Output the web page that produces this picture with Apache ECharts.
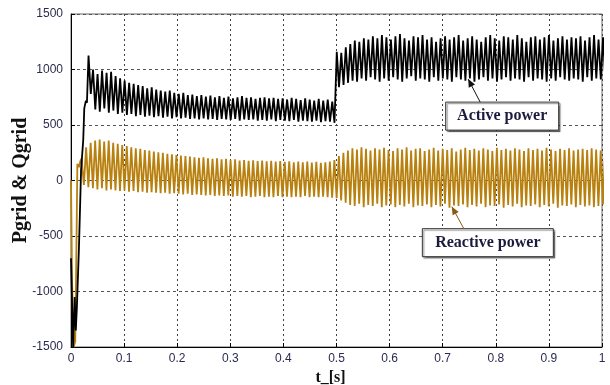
<!DOCTYPE html>
<html>
<head>
<meta charset="utf-8">
<script src="https://cdn.jsdelivr.net/npm/echarts@6/dist/echarts.min.js"></script>
<style>
  html, body { margin: 0; padding: 0; background: #ffffff; }
  #chart { width: 610px; height: 385px; }
</style>
</head>
<body>
<div id="chart"></div>
<script>
// Start-up transient of the grid active power Pgrid: [t, value]
const pStartTimes  = [0.000, 0.004, 0.007, 0.009, 0.011, 0.015, 0.019, 0.023, 0.025, 0.028, 0.030];
const pStartValues = [-700, -1500, -1050, -1350, -1150, -600, 100, 360, 650, 720, 700];

// Ripple of Pgrid after start-up: one crest and one trough per ripple period
const pRippleStart = 0.033;
const pCrests = [
  1126, 1000, 960, 990, 970, 980, 940, 920, 900, 880,
  870, 860, 850, 830, 840, 820, 810, 800, 810, 790,
  780, 790, 770, 775, 760, 770, 755, 765, 750, 760,
  745, 755, 740, 750, 760, 745, 750, 735, 745, 750,
  740, 745, 735, 740, 730, 745, 735, 725, 740, 730,
  720, 735, 720, 730, 710,
  1160, 1150, 1200, 1230, 1260, 1250, 1280, 1270, 1300, 1280,
  1310, 1290, 1270, 1300, 1320, 1280, 1260, 1300, 1290, 1310,
  1270, 1290, 1250, 1280, 1300, 1270, 1290, 1310, 1260, 1280,
  1300, 1270, 1250, 1290, 1310, 1280, 1260, 1300, 1290, 1270,
  1310, 1280, 1250, 1290, 1300, 1270, 1290, 1310, 1260, 1280,
  1300, 1270, 1290, 1280, 1300, 1260, 1290, 1310, 1270, 1290
];
const pTroughs = [
  780, 640, 620, 650, 610, 630, 600, 610, 590, 600,
  580, 590, 575, 585, 570, 580, 565, 575, 560, 570,
  560, 565, 555, 560, 550, 560, 550, 555, 545, 555,
  550, 545, 555, 540, 550, 545, 550, 540, 545, 540,
  550, 535, 545, 540, 535, 545, 530, 540, 535, 530,
  540, 525, 535, 530, 520,
  840, 860, 880, 900, 890, 920, 900, 930, 910, 890,
  920, 900, 930, 910, 890, 920, 940, 900, 920, 910,
  890, 930, 900, 920, 910, 890, 930, 910, 900, 920,
  890, 910, 930, 900, 920, 890, 910, 930, 900, 920,
  910, 890, 930, 900, 920, 910, 890, 920, 900, 930,
  910, 900, 920, 910, 890, 930, 900, 920, 910, 900
];

// Start-up transient of the grid reactive power Qgrid: [t, value]
const qStartTimes  = [0.000, 0.002, 0.005, 0.008, 0.010, 0.012, 0.015, 0.018];
const qStartValues = [0, -900, -1500, -1450, -700, 150, 120, 180];

// Ripple of Qgrid after start-up
const qRippleStart = 0.020;
const qCrests = [
  200, 300, 340, 360, 370, 350, 360, 340, 330, 320,
  310, 300, 290, 285, 275, 270, 260, 255, 250, 240,
  235, 230, 225, 220, 215, 210, 205, 210, 200, 195,
  200, 190, 195, 185, 190, 180, 185, 178, 182, 175,
  180, 172, 178, 170, 175, 168, 172, 165, 170, 165,
  170, 162, 168, 160, 165, 170, 185,
  220, 250, 270, 290, 280, 300, 285, 270, 290, 280,
  295, 275, 265, 290, 280, 300, 270, 285, 290, 265,
  280, 295, 270, 285, 275, 290, 260, 280, 295, 275,
  285, 270, 290, 280, 265, 295, 275, 285, 270, 290,
  280, 265, 290, 275, 285, 270, 295, 280, 265, 285,
  275, 290, 270, 280, 285, 275, 290, 280, 270, 290
];
const qTroughs = [
  -40, -60, -70, -80, -70, -90, -80, -90, -95, -90,
  -100, -95, -105, -100, -110, -105, -110, -115, -110, -120,
  -115, -120, -125, -120, -130, -125, -130, -135, -130, -140,
  -135, -140, -135, -145, -140, -145, -140, -150, -145, -140,
  -150, -145, -150, -140, -150, -145, -150, -145, -150, -140,
  -150, -145, -150, -145, -150, -155, -160,
  -180, -200, -220, -230, -210, -240, -220, -230, -210, -240,
  -225, -215, -240, -220, -235, -210, -240, -225, -230, -215,
  -240, -220, -235, -210, -245, -225, -230, -215, -240, -220,
  -235, -210, -240, -225, -230, -215, -245, -220, -235, -210,
  -240, -225, -230, -215, -240, -220, -235, -210, -245, -225,
  -230, -215, -240, -220, -235, -225, -240, -230, -215, -235
];

const ripplePeriod = 0.0085;

// Axis ranges and steps
const xRange = [0, 1];
const xStep = 0.1;
const yRange = [-1500, 1500];
const yStep = 500;

// Text
const yTitle = 'Pgrid & Qgrid';
const xTitle = 't_[s]';
const activeLabel = 'Active power';
const reactiveLabel = 'Reactive power';

function buildSeries(startTimes, startValues, t0, crests, troughs) {
  const pts = startTimes.map((t, i) => [t, startValues[i]]);
  const n = Math.min(crests.length, troughs.length);
  for (let i = 0; i < n; i++) {
    const t = t0 + i * ripplePeriod;
    pts.push([t, crests[i]]);
    pts.push([t + ripplePeriod / 2, troughs[i]]);
  }
  return pts;
}

const pData = buildSeries(pStartTimes, pStartValues, pRippleStart, pCrests, pTroughs);
const qData = buildSeries(qStartTimes, qStartValues, qRippleStart, qCrests, qTroughs);

const labelColor = '#2b2b4f';
const chart = echarts.init(document.getElementById('chart'), null, { renderer: 'canvas' });

chart.setOption({
  animation: false,
  backgroundColor: '#ffffff',
  grid: {
    left: 71, right: 8, top: 14, bottom: 38,
    containLabel: false, outerBoundsMode: 'none',
    show: true, borderColor: '#666666', borderWidth: 1
  },
  xAxis: {
    type: 'value',
    min: xRange[0], max: xRange[1], interval: xStep,
    name: xTitle,
    nameLocation: 'middle',
    nameGap: 22,
    nameTextStyle: {
      fontFamily: 'Liberation Serif', fontWeight: 'bold', fontSize: 16,
      color: '#111111', verticalAlign: 'top', padding: [0, 12, 0, 0]
    },
    axisLine: { show: true, onZero: false, lineStyle: { color: '#000000', width: 1 } },
    axisTick: { show: true, inside: true, length: 4, lineStyle: { color: '#000000' } },
    axisLabel: {
      fontFamily: 'Liberation Sans', fontSize: 12, color: labelColor, margin: 6,
      formatter: v => String(Math.round(v * 10) / 10)
    },
    splitLine: { show: true, lineStyle: { color: '#444444', type: [2, 3], width: 1 } }
  },
  yAxis: {
    type: 'value',
    min: yRange[0], max: yRange[1], interval: yStep,
    name: yTitle,
    nameLocation: 'middle',
    nameRotate: 90,
    nameGap: 40,
    nameMoveOverlap: false,
    nameTextStyle: {
      fontFamily: 'Liberation Serif', fontWeight: 'bold', fontSize: 20, color: '#111111'
    },
    axisLine: { show: true, lineStyle: { color: '#000000', width: 1 } },
    axisTick: { show: true, inside: true, length: 4, lineStyle: { color: '#000000' } },
    axisLabel: {
      fontFamily: 'Liberation Sans', fontSize: 12, color: labelColor, margin: 8,
      formatter: v => String(v)
    },
    splitLine: { show: true, lineStyle: { color: '#555555', type: [3, 3], width: 1 } }
  },
  series: [
    {
      name: 'Qgrid', type: 'line', data: qData, showSymbol: false, symbol: 'none',
      clip: true, lineStyle: { color: '#b8800e', width: 1.8 }, z: 2
    },
    {
      name: 'Pgrid', type: 'line', data: pData, showSymbol: false, symbol: 'none',
      clip: true, lineStyle: { color: '#000000', width: 1.8 }, z: 3
    }
  ]
});

// Callout boxes with arrows pointing at the two curves
function arrowHead(tip, from, color) {
  const dx = tip[0] - from[0], dy = tip[1] - from[1];
  const len = Math.hypot(dx, dy);
  const ux = dx / len, uy = dy / len;
  const size = 8, half = 3.5;
  const bx = tip[0] - ux * size, by = tip[1] - uy * size;
  return {
    type: 'polygon',
    shape: { points: [tip, [bx - uy * half, by + ux * half], [bx + uy * half, by - ux * half]] },
    style: { fill: color },
    z: 20
  };
}

function callout(center, w, h, text, arrowFrom, arrowTip, arrowColor) {
  return [
    {
      type: 'rect',
      shape: { x: center[0] - w / 2, y: center[1] - h / 2, width: w, height: h },
      style: {
        fill: '#ffffff', stroke: '#333333', lineWidth: 1,
        shadowColor: 'rgba(0,0,0,0.45)', shadowOffsetX: 1.5, shadowOffsetY: 1.5, shadowBlur: 1
      },
      z: 15
    },
    {
      type: 'text',
      x: center[0], y: center[1],
      style: {
        text: text, fill: '#1b1b3d', font: 'bold 16px "Liberation Serif"',
        align: 'center', verticalAlign: 'middle'
      },
      z: 16
    },
    {
      type: 'line',
      shape: { x1: arrowFrom[0], y1: arrowFrom[1], x2: arrowTip[0], y2: arrowTip[1] },
      style: { stroke: arrowColor, lineWidth: 1 },
      z: 20
    },
    arrowHead(arrowTip, arrowFrom, arrowColor)
  ];
}

const aC = chart.convertToPixel({ gridIndex: 0 }, [0.812, 580]);
const rC = chart.convertToPixel({ gridIndex: 0 }, [0.785, -560]);
chart.setOption({
  graphic: [
    ...callout(aC, 113, 28, activeLabel, [aC[0] - 22, aC[1] - 14], [aC[0] - 34, aC[1] - 37], '#111111'),
    ...callout(rC, 131, 28, reactiveLabel, [rC[0] - 24, rC[1] - 14], [rC[0] - 36, rC[1] - 36], '#8a5a10')
  ]
});
</script>
</body>
</html>
